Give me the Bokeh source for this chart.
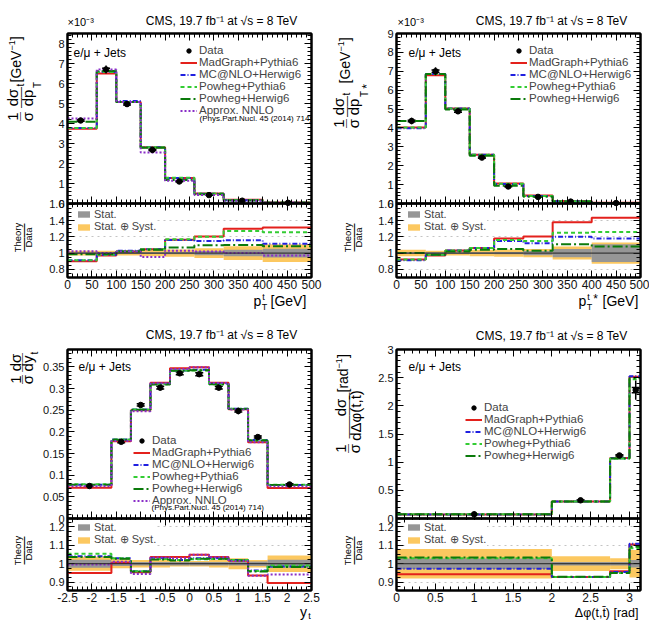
import numpy as np
from bokeh.embed import file_html
from bokeh.layouts import column, row
from bokeh.models import (ColumnDataSource, CustomJSTickFormatter, FixedTicker, Grid, Label,
                          Legend, LegendItem, LinearAxis, Range1d, SingleIntervalTicker, Span,
                          TeeHead, Whisker)
from bokeh.plotting import figure
from bokeh.resources import INLINE

# ---------------------------------------------------------------- data
# top-quark transverse momentum, normalised [1e-3 / GeV]
pt_edges = [0, 60, 100, 150, 200, 260, 320, 400, 500]
ptt_data = [4.15, 6.70, 4.97, 2.68, 1.10, 0.42, 0.14, 0.035]
ptt_data_x = [27, 79, 122, 174, 229, 290, 358, 452]
ptt_stat = [0.010, 0.010, 0.010, 0.012, 0.015, 0.025, 0.040, 0.055]
ptt_tot = [0.030, 0.030, 0.030, 0.040, 0.045, 0.060, 0.085, 0.110]
ptt_madgraph = [3.74, 6.50, 5.07, 2.81, 1.280, 0.506, 0.182, 0.046]
ptt_mcatnlo = [3.78, 6.57, 5.12, 2.81, 1.276, 0.483, 0.162, 0.039]
ptt_powheg_py = [3.78, 6.57, 5.07, 2.81, 1.287, 0.504, 0.178, 0.044]
ptt_powheg_hw = [4.09, 6.63, 5.07, 2.79, 1.177, 0.460, 0.154, 0.038]
ptt_nnlo = [4.25, 6.70, 5.07, 2.55, 1.133, 0.428, 0.140, 0.034]

# top-quark pT in the ttbar rest frame [1e-3 / GeV]
pts_data = [4.37, 7.00, 4.88, 2.43, 0.90, 0.35, 0.10, 0.025]
pts_data_x = [31, 80, 126, 175, 229, 290, 357, 450]
pts_stat = [0.010, 0.010, 0.010, 0.012, 0.015, 0.025, 0.050, 0.110]
pts_tot = [0.040, 0.030, 0.030, 0.040, 0.045, 0.050, 0.080, 0.130]
pts_madgraph = [4.02, 6.79, 5.03, 2.58, 1.062, 0.422, 0.138, 0.0359]
pts_mcatnlo = [3.98, 6.86, 5.03, 2.58, 1.035, 0.392, 0.120, 0.0295]
pts_powheg_py = [4.02, 6.86, 5.03, 2.58, 1.044, 0.4025, 0.125, 0.0315]
pts_powheg_hw = [4.37, 6.86, 4.98, 2.53, 0.945, 0.3605, 0.111, 0.0270]

# top-quark rapidity
yt_edges = [-2.5, -1.6, -1.2, -0.8, -0.4, 0.0, 0.4, 0.8, 1.2, 1.6, 2.5]
yt_data = [0.075, 0.177, 0.262, 0.302, 0.335, 0.333, 0.302, 0.248, 0.188, 0.0785]
yt_data_x = [-2.05, -1.4, -1.0, -0.6, -0.2, 0.2, 0.6, 1.0, 1.4, 2.05]
yt_stat = [0.022, 0.012, 0.010, 0.010, 0.010, 0.010, 0.010, 0.010, 0.012, 0.022]
yt_tot = [0.038, 0.025, 0.020, 0.020, 0.015, 0.015, 0.020, 0.030, 0.020, 0.045]
yt_madgraph = [0.0712, 0.178, 0.250, 0.313, 0.347, 0.349, 0.313, 0.252, 0.176, 0.0703]
yt_mcatnlo = [0.0780, 0.1823, 0.2515, 0.311, 0.3417, 0.343, 0.311, 0.253, 0.181, 0.0773]
yt_powheg_py = [0.0791, 0.1823, 0.2515, 0.3096, 0.3417, 0.3413, 0.3096, 0.253, 0.1805, 0.0777]
yt_powheg_hw = [0.0777, 0.1818, 0.251, 0.309, 0.341, 0.342, 0.310, 0.2525, 0.180, 0.0771]
yt_nnlo = [0.0747, 0.1788, 0.2476, 0.312, 0.345, 0.349, 0.3126, 0.2517, 0.1758, 0.0739]

# azimuthal separation of t and tbar [1 / rad]
dphi_edges = [0.0, 2.0, 2.75, 3.0, np.pi]
dphi_data = [0.075, 0.323, 1.12, 2.28]
dphi_data_x = [1.0, 2.37, 2.87, 3.08]
dphi_stat = [0.028, 0.010, 0.010, 0.020]
dphi_tot = [0.080, 0.040, 0.030, 0.075]
dphi_madgraph = [0.0707, 0.300, 1.075, 2.517]
dphi_mcatnlo = [0.0730, 0.300, 1.070, 2.526]
dphi_powheg_py = [0.0772, 0.300, 1.064, 2.470]
dphi_powheg_hw = [0.0775, 0.3004, 1.064, 2.490]

# ---------------------------------------------------------------- style
FONT = "Liberation Sans"
STYLE = {
    "MadGraph+Pythia6": ("#e3211c", "solid"),
    "MC@NLO+Herwig6": ("#2020e0", "5 2 1 2"),
    "Powheg+Pythia6": ("#33cc33", "4 3"),
    "Powheg+Herwig6": ("#0b7a0b", "10 3 2 3"),
    "Approx. NNLO": ("#8a2fc8", "2 2"),
}
ORANGE = "#fcc860"
GREY = "#969696"
ROUND = CustomJSTickFormatter(code="return String(Math.round(tick * 1000) / 1000);")
TITLE = "CMS, 19.7 fb\u207b\u00b9 at \u221as = 8 TeV"
ROT = np.pi / 2


def steps(edges, vals):
    x = np.repeat(np.asarray(edges, float), 2)[1:-1]
    y = np.repeat(np.asarray(vals, float), 2)
    return x, y


def axis(p, side, ticker, formatter=ROUND, label_px=12, standoff=3, labels=True,
         fixed_location=None):
    ax = LinearAxis(ticker=ticker, formatter=formatter,
                    major_tick_in=7, major_tick_out=0, minor_tick_in=4, minor_tick_out=0,
                    axis_line_width=2, axis_line_color="black",
                    major_tick_line_color="black", minor_tick_line_color="black",
                    major_label_text_font=FONT,
                    major_label_text_color="#111111" if labels else None,
                    major_label_text_font_size=f"{label_px}px",
                    major_label_standoff=standoff if labels else 0,
                    fixed_location=fixed_location)
    p.add_layout(ax, side)
    return ax


def text_strip(w, h):
    p = figure(width=w, height=h, x_range=Range1d(0, 1), y_range=Range1d(0, 1),
               output_backend="svg", toolbar_location=None,
               x_axis_location=None, y_axis_location=None, min_border=0)
    p.grid.visible = False
    p.outline_line_color = None
    return p


def put(p, origin, X, Y, text, size, angle=0.0, align="center", baseline="middle"):
    """Place a text at page position (X, Y); origin is the page position of the
    bottom-left corner of the figure's frame."""
    ox, oy = origin
    p.add_layout(Label(x=X - ox, y=oy - Y, x_units="screen", y_units="screen",
                       text=text, angle=angle, text_align=align,
                       text_baseline=baseline, text_font=FONT,
                       text_font_size=f"{size}px", text_color="black"))


def vput(p, origin, X, Y, text, size):
    """Vertical text reading upwards, centred on page position (X, Y)."""
    put(p, origin, X, Y, text, size, angle=ROT)


def bar(p, origin, X, Y, length):
    """Vertical fraction bar centred on page position (X, Y)."""
    n = max(1, int(round(length / 12)))
    vput(p, origin, X, Y, "\u2014" * n, round(length / n, 1))


def unit_label(p, origin, X, Ystart, unit, size=14):
    """Vertical "[unit^-1]" label, starting at Ystart and reading upwards."""
    w1 = {"GeV": 2.279, "rad": 1.723}[unit] * size
    w3 = 0.278 * size
    vput(p, origin, X, Ystart - w1 / 2, "[" + unit, size)
    vput(p, origin, X - 4, Ystart - w1 - 5.1, "\u22121", 9)
    vput(p, origin, X, Ystart - w1 - 10.3 - w3 / 2, "]", size)


def ratio_ylabel(p, origin, xc, yc):
    vput(p, origin, xc - 5.5, yc, "Theory", 9.5)
    bar(p, origin, xc, yc, 28)
    vput(p, origin, xc + 5.5, yc, "Data", 9.5)


def panel(w, h, borders, xr, xstep, main_top, main_step, ratio_rng, ratio_step,
          ratio_minor, px_main, px_ratio, edges, data, data_x, stat, tot, curves,
          main_leg_loc, ratio_leg_loc):
    """Distribution (upper part of the frame) and theory/data ratio (lower part)."""
    bl, br, bt, bb = borders
    r0, r1 = ratio_rng
    y0 = -main_top * px_ratio / px_main
    r_top = r1 + (r1 - r0) * px_main / px_ratio
    scale = (main_top - y0) / (r_top - r0)

    def to_main(r):
        return [float(y0 + (v - r0) * scale) for v in r]

    p = figure(width=w, height=h, x_range=Range1d(*xr), y_range=Range1d(y0, main_top),
               output_backend="svg", toolbar_location=None,
               x_axis_location=None, y_axis_location=None,
               min_border_left=bl, min_border_right=br,
               min_border_top=bt, min_border_bottom=bb)
    p.extra_y_ranges = {"ratio": Range1d(r0, r_top)}
    p.grid.visible = False
    p.outline_line_color = "black"
    p.outline_line_width = 2

    main_major = [float(v) for v in np.round(np.arange(0, main_top + 1e-9, main_step), 6)]
    main_minor = [float(v) for v in np.round(np.arange(0, main_top + 1e-9, main_step / 5), 6)]
    rat_major = np.round(np.arange(np.ceil(r0 / ratio_step - 1e-9) * ratio_step,
                                   r1 + 1e-9, ratio_step), 6)
    rat_minor = np.round(np.arange(np.ceil(r0 / ratio_minor - 1e-9) * ratio_minor,
                                   r1 + 1e-9, ratio_minor), 6)
    yticker = FixedTicker(ticks=main_major + to_main(rat_major),
                          minor_ticks=main_minor + to_main(rat_minor))
    yfmt = CustomJSTickFormatter(
        args=dict(r0=r0, y0=y0, s=scale),
        code="const v = tick < -1e-9 ? r0 + (tick - y0) / s : tick;"
             "return String(Math.round(v * 1000) / 1000);")
    xticker = SingleIntervalTicker(interval=xstep, num_minor_ticks=5)
    axis(p, "left", yticker, yfmt, label_px=11, standoff=3)
    axis(p, "right", yticker, labels=False)
    axis(p, "above", xticker, labels=False)
    axis(p, "below", xticker, label_px=12, standoff=2)
    # tick marks on both sides of the boundary between the two parts
    axis(p, "below", xticker, labels=False, fixed_location=0)
    axis(p, "above", xticker, labels=False, fixed_location=0)

    p.add_layout(Grid(dimension=1,
                      ticker=FixedTicker(ticks=to_main([v for v in rat_major if abs(v - 1) > 1e-6])),
                      grid_line_color="#c4c4c4", grid_line_dash="dotted"))

    # ---- ratio part
    e = np.asarray(edges, float)
    st = np.asarray(stat)
    tt = np.asarray(tot)
    d = np.asarray(data, float)
    r_tot = p.quad(left=e[:-1], right=e[1:], bottom=1 - tt, top=1 + tt,
                   fill_color=ORANGE, line_color=None, y_range_name="ratio")
    r_stat = p.quad(left=e[:-1], right=e[1:], bottom=1 - st, top=1 + st,
                    fill_color=GREY, line_color=None, y_range_name="ratio")
    p.add_layout(Span(location=to_main([1.0])[0], dimension="width",
                      line_color="#222222", line_width=1))
    for name, vals in curves:
        color, dash = STYLE[name]
        x, y = steps(edges, np.asarray(vals, float) / d)
        p.line(x, y, line_color=color, line_width=2, line_dash=dash, y_range_name="ratio")

    # ---- distribution part
    items = []
    for name, vals in curves:
        color, dash = STYLE[name]
        x, y = steps(edges, vals)
        r = p.line(x, y, line_color=color, line_width=2, line_dash=dash)
        items.append(LegendItem(label=name, renderers=[r]))

    src = ColumnDataSource(dict(x=data_x, y=d, lo_t=d * (1 - tt), hi_t=d * (1 + tt),
                                lo_s=d * (1 - st), hi_s=d * (1 + st)))
    p.segment(x0="x", y0="lo_t", x1="x", y1="hi_t", source=src,
              line_color="black", line_width=1.5)
    p.add_layout(Whisker(base="x", lower="lo_s", upper="hi_s", source=src,
                         dimension="height", line_color="black", line_width=1.5,
                         lower_head=TeeHead(size=8, line_color="black", line_width=1.5),
                         upper_head=TeeHead(size=8, line_color="black", line_width=1.5)))
    r_data = p.scatter("x", "y", source=src, size=5.5, color="black")
    items.insert(0, LegendItem(label="Data", renderers=[r_data]))

    # boundary between the two parts
    p.add_layout(Span(location=0, dimension="width", line_color="black", line_width=2))

    p.add_layout(Legend(items=items, location=main_leg_loc, glyph_width=17,
                        glyph_height=11, label_height=11, label_standoff=2, spacing=0,
                        padding=0, margin=0, label_text_font=FONT,
                        label_text_font_size="11.5px", background_fill_alpha=0,
                        border_line_alpha=0))
    p.add_layout(Legend(items=[LegendItem(label="Stat.", renderers=[r_stat]),
                               LegendItem(label="Stat. \u2295 Syst.", renderers=[r_tot])],
                        location=ratio_leg_loc, glyph_width=15, glyph_height=8,
                        label_height=9, label_standoff=3, spacing=0, padding=1, margin=0,
                        label_text_font=FONT, label_text_font_size="11px",
                        background_fill_color="white", background_fill_alpha=1,
                        border_line_alpha=0))
    return p


# ================================================================ top left: pT(t)
c_ptt = [("MadGraph+Pythia6", ptt_madgraph), ("MC@NLO+Herwig6", ptt_mcatnlo),
         ("Powheg+Pythia6", ptt_powheg_py), ("Powheg+Herwig6", ptt_powheg_hw),
         ("Approx. NNLO", ptt_nnlo)]
tl_top = text_strip(325, 27)
o = (0, 27)
put(tl_top, o, 297, 20, TITLE, 12, align="right")
put(tl_top, o, 67, 27.5, "\u00d710\u207b\u00b3", 11, align="left", baseline="bottom")

# the strip's frame lines up with the plot frame next to it (page y 33 .. 277)
tl_left = text_strip(45, 265)
o = (0, 277)
vput(tl_left, o, 12, 116, "1", 15)
bar(tl_left, o, 19.5, 116, 9)
vput(tl_left, o, 26.5, 116, "\u03c3", 15)
vput(tl_left, o, 12, 97, "d\u03c3", 15)
bar(tl_left, o, 19.5, 97, 21)
vput(tl_left, o, 27, 97.5, "dp", 15)
vput(tl_left, o, 20, 84.5, "t", 10)
vput(tl_left, o, 36.5, 84.5, "T", 10)
unit_label(tl_left, o, 15.5, 82, "GeV")
ratio_ylabel(tl_left, o, 22.5, 237)

tl_plot = panel(280, 265, (22, 14, 6, 15), (0, 500), 50, 8.5, 1, (0.7, 1.61), 0.2, 0.05,
                170, 74, pt_edges, ptt_data, ptt_data_x, ptt_stat, ptt_tot, c_ptt,
                (113, 161), (8, 43))
o = (67, 277)
put(tl_plot, o, 73, 52, "e/\u03bc + Jets", 12, align="left")
put(tl_plot, o, 199, 118, "(Phys.Part.Nucl. 45 (2014) 714)", 8, align="left")

tl_bot = text_strip(325, 18)
o = (0, 310)
put(tl_bot, o, 257, 300, "p", 14)
put(tl_bot, o, 263, 296, "t", 9)
put(tl_bot, o, 264, 306, "T", 9)
put(tl_bot, o, 270, 300, "[GeV]", 14, align="left")

# ================================================================ top right: pT(t*)
c_pts = [("MadGraph+Pythia6", pts_madgraph), ("MC@NLO+Herwig6", pts_mcatnlo),
         ("Powheg+Pythia6", pts_powheg_py), ("Powheg+Herwig6", pts_powheg_hw)]
tr_top = text_strip(324, 27)
o = (325, 27)
put(tr_top, o, 627, 20, TITLE, 12, align="right")
put(tr_top, o, 397, 27.5, "\u00d710\u207b\u00b3", 11, align="left", baseline="bottom")

tr_left = text_strip(48, 265)
o = (325, 277)
vput(tr_left, o, 338, 123, "1", 15)
bar(tr_left, o, 345.5, 123, 9)
vput(tr_left, o, 352.5, 123, "\u03c3", 15)
vput(tr_left, o, 338, 106, "d\u03c3", 15)
bar(tr_left, o, 345.5, 106, 21)
vput(tr_left, o, 353, 106.5, "dp", 15)
vput(tr_left, o, 346, 93.5, "t", 10)
vput(tr_left, o, 363.5, 93.5, "T", 10)
vput(tr_left, o, 366, 86, "*", 12)
unit_label(tr_left, o, 344, 83, "GeV")
ratio_ylabel(tr_left, o, 352.5, 237)

tr_plot = panel(276, 265, (23, 9, 6, 15), (0, 500), 50, 9, 1, (0.7, 1.61), 0.2, 0.05,
                170, 74, pt_edges, pts_data, pts_data_x, pts_stat, pts_tot, c_pts,
                (114, 173), (9, 43))
o = (396, 277)
put(tr_plot, o, 408, 52, "e/\u03bc + Jets", 12, align="left")

tr_bot = text_strip(324, 18)
o = (325, 310)
put(tr_bot, o, 582, 300, "p", 14)
put(tr_bot, o, 588, 296, "t", 9)
put(tr_bot, o, 589, 306, "T", 9)
put(tr_bot, o, 595, 298, "*", 12)
put(tr_bot, o, 602, 300, "[GeV]", 14, align="left")

# ================================================================ bottom left: y(t)
c_yt = [("MadGraph+Pythia6", yt_madgraph), ("MC@NLO+Herwig6", yt_mcatnlo),
        ("Powheg+Pythia6", yt_powheg_py), ("Powheg+Herwig6", yt_powheg_hw),
        ("Approx. NNLO", yt_nnlo)]
bl_top = text_strip(325, 33)
o = (0, 343)
put(bl_top, o, 297, 334, TITLE, 12, align="right")

bl_left = text_strip(40, 262)
o = (0, 590)
vput(bl_left, o, 15, 379, "1", 15)
bar(bl_left, o, 21, 379, 9)
vput(bl_left, o, 27, 379, "\u03c3", 15)
vput(bl_left, o, 15, 362, "d\u03c3", 15)
bar(bl_left, o, 21, 362, 19)
vput(bl_left, o, 27, 363, "dy", 15)
vput(bl_left, o, 33.5, 352.5, "t", 10)
ratio_ylabel(bl_left, o, 22, 550)

bl_plot = panel(285, 262, (27, 14, 6, 15), (-2.5, 2.5), 0.5, 0.39, 0.05, (0.855, 1.245),
                0.1, 0.025, 169, 72, yt_edges, yt_data, yt_data_x, yt_stat, yt_tot, c_yt,
                (66, 84), (8, 43))
o = (67, 590)
put(bl_plot, o, 78, 366, "e/\u03bc + Jets", 12, align="left")
put(bl_plot, o, 151, 507, "(Phys.Part.Nucl. 45 (2014) 714)", 8, align="left")

bl_bot = text_strip(325, 15)
o = (0, 620)
put(bl_bot, o, 303, 611.5, "y", 14)
put(bl_bot, o, 309, 615, "t", 9)

# ================================================================ bottom right: dphi(t, tbar)
c_dphi = [("MadGraph+Pythia6", dphi_madgraph), ("MC@NLO+Herwig6", dphi_mcatnlo),
          ("Powheg+Pythia6", dphi_powheg_py), ("Powheg+Herwig6", dphi_powheg_hw)]
br_top = text_strip(324, 33)
o = (325, 343)
put(br_top, o, 627, 335, TITLE, 12, align="right")

br_left = text_strip(40, 262)
o = (325, 590)
vput(br_left, o, 340, 448, "1", 15)
bar(br_left, o, 347, 448, 9)
vput(br_left, o, 354, 448, "\u03c3", 15)
vput(br_left, o, 340, 407, "d\u03c3", 15)
bar(br_left, o, 347, 415, 46)
vput(br_left, o, 355, 415, "d\u0394\u03c6(t,t\u0304)", 15)
unit_label(br_left, o, 342, 392, "rad")
ratio_ylabel(br_left, o, 352.5, 550)

br_plot = panel(284, 262, (31, 9, 6, 15), (0, np.pi), 0.5, 3.0, 0.5, (0.855, 1.245),
                0.1, 0.025, 169, 72, dphi_edges, dphi_data, dphi_data_x, dphi_stat,
                dphi_tot, c_dphi, (69, 129), (9, 43))
o = (396, 590)
put(br_plot, o, 408, 366, "e/\u03bc + Jets", 12, align="left")

br_bot = text_strip(324, 15)
o = (325, 620)
put(br_bot, o, 638, 612.5, "\u0394\u03c6(t,t\u0304) [rad]", 12.5, align="right")


def quadrant(top, left, plot, bottom):
    return column(top, row(left, plot), bottom)


layout = column(
    row(quadrant(tl_top, tl_left, tl_plot, tl_bot), quadrant(tr_top, tr_left, tr_plot, tr_bot)),
    row(quadrant(bl_top, bl_left, bl_plot, bl_bot), quadrant(br_top, br_left, br_plot, br_bot)),
)

open("out.html", "w").write(file_html(layout, INLINE))
